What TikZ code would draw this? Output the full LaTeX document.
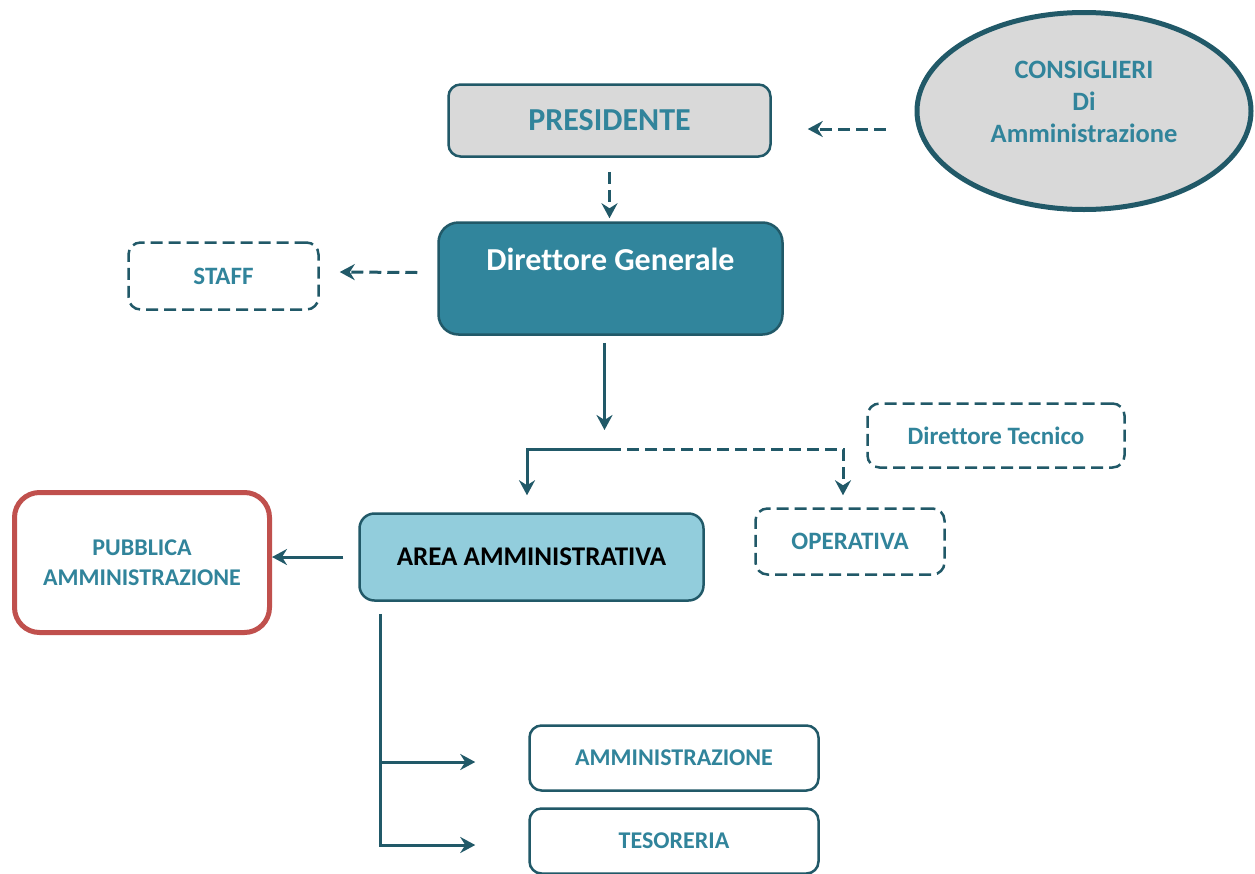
\documentclass[tikz,border=0pt]{standalone}
\usepackage{fontspec}
\setmainfont{Carlito}[Ligatures=NoCommon]
\usetikzlibrary{arrows.meta,shapes.geometric}
\definecolor{tealline}{HTML}{215968}
\definecolor{tealtext}{HTML}{31849B}
\definecolor{tealfill}{HTML}{31859C}
\definecolor{greyfill}{HTML}{D9D9D9}
\definecolor{lightblue}{HTML}{92CDDC}
\definecolor{redline}{HTML}{C0504D}
\tikzset{
  box/.style={draw=tealline,line width=2.5pt,rounded corners=12pt,text=tealtext,align=center,font=\fontsize{24}{30}\selectfont\bfseries},
  bigtext/.style={font=\fontsize{32}{38}\selectfont\bfseries},
  dashbox/.style={box,dash pattern=on 12pt off 6pt,font=\fontsize{25}{30}\selectfont\bfseries},
  link/.style={draw=tealline,line width=3pt,-{Stealth[length=15pt,width=16pt,inset=5pt]}},
  dashlink/.style={link,dash pattern=on 12pt off 6pt}
}
\begin{document}
\begin{tikzpicture}[x=1pt,y=-1pt]
\useasboundingbox[fill=white] (0,0) rectangle (1255,873);
\node[box,bigtext,fill=greyfill,minimum width=322pt,minimum height=72pt] (pres) at (609.5,120.5) {PRESIDENTE};
\node[ellipse,draw=tealline,line width=5pt,fill=greyfill,minimum width=334pt,minimum height=197pt,text=tealtext,align=center,font=\fontsize{26.5}{32}\selectfont\bfseries,text depth=19pt] (cons) at (1084,111) {CONSIGLIERI\\Di\\Amministrazione};
\node[box,bigtext,fill=tealfill,text=white,rounded corners=20pt,minimum width=344pt,minimum height=112pt,text height=22pt,text depth=39pt] (dg) at (610.5,278.5) {Direttore Generale};
\node[dashbox,minimum width=190pt,minimum height=67pt] (staff) at (223.5,276) {STAFF};
\node[dashbox,minimum width=257pt,minimum height=64pt] (dt) at (996,435.5) {Direttore Tecnico};
\node[dashbox,minimum width=189pt,minimum height=66pt] (oper) at (850,541.5) {OPERATIVA};
\node[box,fill=lightblue,text=black,rounded corners=15pt,minimum width=344pt,minimum height=87pt,font=\fontsize{27}{32}\selectfont\bfseries] (area) at (531.5,557) {AREA AMMINISTRATIVA};
\node[box,draw=redline,line width=5pt,rounded corners=25pt,minimum width=255pt,minimum height=140pt] (pa) at (142,562.5) {PUBBLICA\\AMMINISTRAZIONE};
\node[box,minimum width=289pt,minimum height=65pt] (amm) at (674,758) {AMMINISTRAZIONE};
\node[box,minimum width=289pt,minimum height=65pt] (tes) at (674,841) {TESORERIA};
\draw[dashlink] ([xshift=-29pt,yshift=-18pt]cons.west) -- ([xshift=36pt,yshift=-8.5pt]pres.east);
\draw[dashlink,shorten <=14pt,shorten >=3pt] (pres.south) -- (pres.south |- dg.north);
\draw[dashlink] ([xshift=-20pt,yshift=6pt]dg.west) -- ([xshift=20pt,yshift=4pt]staff.east);
\coordinate (split) at (609,449);
\draw[link,shorten <=7pt,shorten >=19pt] ([xshift=-6pt]dg.south) -- ([xshift=-6pt]dg.south |- split);
\draw[link] (split) -| ([xshift=-4.5pt,yshift=17pt]area.north);
\draw[dashlink] (split) -| ([xshift=-7pt,yshift=12pt]oper.north);
\draw[link,shorten <=15pt] (area.west) -- (pa.east |- area.west);
\coordinate (trunk) at ([xshift=22pt,yshift=-12pt]area.south west);
\coordinate (a1) at ([yshift=-4pt]amm.west);
\coordinate (t1) at ([yshift=-4pt]tes.west);
\draw[link] (trunk) |- ([xshift=-53pt]t1);
\draw[link] (trunk |- a1) -- ([xshift=-53pt]a1);
\end{tikzpicture}
\end{document}
